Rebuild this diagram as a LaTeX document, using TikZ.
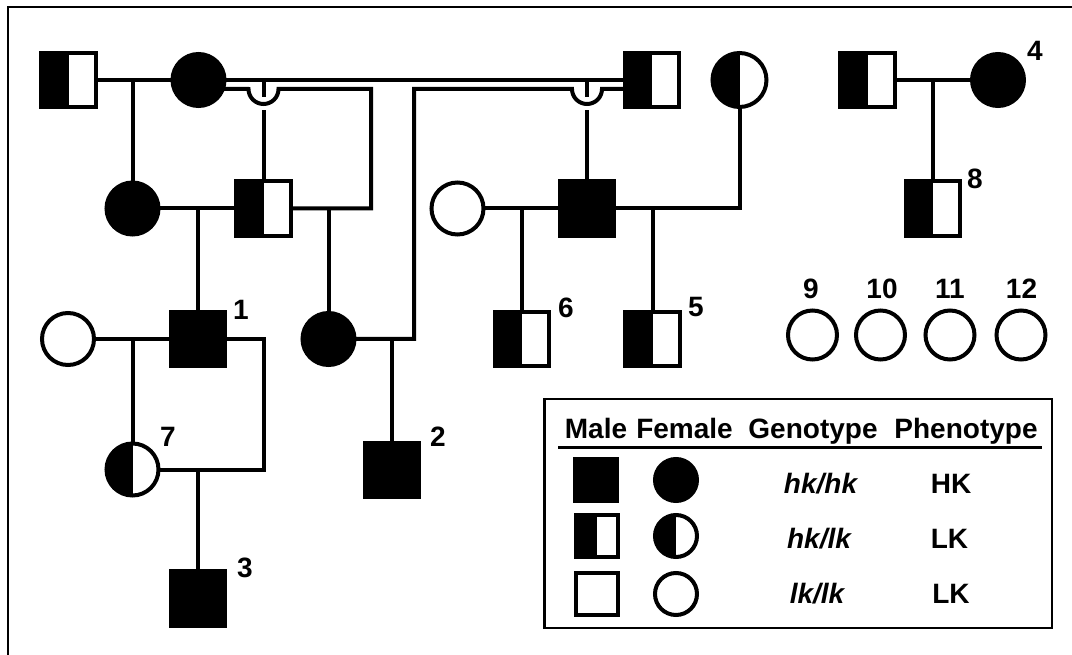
\documentclass[tikz,border=0pt]{standalone}
\usepackage{fontspec}
\setmainfont{Liberation Sans}
\newcommand\lblfont{\fontsize{28}{30}\selectfont\bfseries}
\begin{document}
\begin{tikzpicture}[x=1pt,y=-1pt,
  pl/.style={line width=4pt},
  sym/.style={draw=black, line width=4pt, inner sep=0pt, outer sep=0pt},
  male/.style={sym, rectangle, minimum size=54.5pt},
  female/.style={sym, circle, minimum size=52pt},
  lmale/.style={sym, rectangle, minimum size=42pt},
  lfemale/.style={sym, circle, minimum size=42pt},
  aff/.style={fill=black},
  car/.style={path picture={\fill[black] (path picture bounding box.south west) rectangle (path picture bounding box.north);}},
  lab/.style={font=\lblfont, inner sep=0pt},
  hdr/.style={font=\lblfont, inner sep=0pt, anchor=base},
  gap/.style={white, line width=7pt}
]
\useasboundingbox (0,0) rectangle (1072,655);
\fill[white] (0,0) rectangle (1072,655);
% frame (cut at right and bottom)
\draw[line width=2.5pt] (8,655) -- (8,7) -- (1072,7);

% ---------- generation I ----------
\node[male,car]   (m11) at (68.5,80) {};
\node[female,aff] (f12) at (198.5,80) {};
\node[male,car]   (m13) at (652,80) {};
\node[female,car, minimum size=54pt] (f14) at (739.5,80) {};
\node[male,car]   (m15) at (867.5,80) {};
\node[female,aff] (f4)  at (998,80) {};
\node[lab] (l4) at (1035,51) {4};

% ---------- generation II ----------
\node[female,aff] (f21) at (132.5,208.5) {};
\node[male,car]   (m22) at (263.5,208.5) {};
\node[female]     (f23) at (457.5,208.5) {};
\node[male,aff]   (m24) at (587,208.5) {};
\node[male,car]   (m8)  at (933,208.5) {};
\node[lab] (l8) at (975,178.5) {8};

% ---------- generation III ----------
\node[female]     (f31) at (68,339) {};
\node[male,aff]   (m1)  at (198,339) {};
\node[lab] (l1) at (241,310) {1};
\node[female,aff] (f33) at (328.5,339) {};
\node[male,car]   (m6)  at (522,339) {};
\node[lab] (l6) at (566,307.5) {6};
\node[male,car]   (m5)  at (652.5,339) {};
\node[lab] (l5) at (696,307.5) {5};
\node[female, minimum size=49pt] (f9)  at (812.5,335) {};
\node[female, minimum size=49pt] (f10) at (880.5,335) {};
\node[female, minimum size=49pt] (f11) at (950,335) {};
\node[female, minimum size=49pt] (f12b) at (1021,335) {};
\node[lab] (l9)  at (811,289) {9};
\node[lab] (l10) at (882,289) {10};
\node[lab] (l11) at (950,289) {11};
\node[lab] (l12) at (1021.5,289) {12};

% ---------- generation IV ----------
\node[female,car] (f7) at (132.5,469.5) {};
\node[lab] (l7) at (168,437) {7};
\node[male,aff]   (m2) at (392,470) {};
\node[lab] (l2) at (438,437) {2};

% ---------- generation V ----------
\node[male,aff]   (m3) at (198,598.5) {};
\node[lab] (l3) at (245,568) {3};

% ---------- connectors ----------
\draw[pl] (m11) -- (f12);
\coordinate (c1) at (132.5,80);
\draw[pl] (c1) -- (f21);
\draw[pl] (f12) -- (m13);
\coordinate (c2a) at (263.5,80);
\draw[pl] (c2a) -- (m22);
\coordinate (c2b) at (587,80);
\draw[pl] (c2b) -- (m24);
% gaps where the loops hop over the sibship lines
\draw[gap] (263.5,97.5) -- (263.5,110);
\draw[gap] (587,97.5) -- (587,110);
% I-2 to II-2 loop
\coordinate (k1) at (371,89);
\draw[pl] (f12.-20) -- (248.5,89)
  .. controls (248.5,97.3) and (255.2,104) .. (263.5,104)
  .. controls (271.8,104) and (278.5,97.3) .. (278.5,89)
  -- (k1) -- (k1 |- m22) -- (m22);
% I-3 to III-3 loop
\coordinate (k2) at (414,89);
\draw[pl] (m13.west |- k2) -- (602,89)
  .. controls (602,97.3) and (595.3,104) .. (587,104)
  .. controls (578.7,104) and (572,97.3) .. (572,89)
  -- (k2) -- (k2 |- f33) -- (f33);

\draw[pl] (f21) -- (m22);
\coordinate (c3) at (198,208.5);
\draw[pl] (c3) -- (m1);
\coordinate (c4) at (328.5,208.5);
\draw[pl] (c4) -- (f33);
\draw[pl] (f23) -- (m24);
\coordinate (c5) at (522,208.5);
\draw[pl] (c5) -- (m6);
\coordinate (k3) at (739.5,208.5);
\draw[pl] (m24) -- (k3) -- (f14);
\coordinate (c6) at (652.5,208.5);
\draw[pl] (c6) -- (m5);
\draw[pl] (m15) -- (f4);
\coordinate (c7) at (933,80);
\draw[pl] (c7) -- (m8);
\draw[pl] (f31) -- (m1);
\coordinate (c8) at (132.5,339);
\draw[pl] (c8) -- (f7);
\coordinate (k4) at (263.5,339);
\draw[pl] (m1) -- (k4) -- (k4 |- f7) -- (f7);
\coordinate (c9) at (198,469.5);
\draw[pl] (c9) -- (m3);
\coordinate (c10) at (392,339);
\draw[pl] (c10) -- (m2);

% ---------- legend ----------
\draw[line width=2.5pt] (544.5,399) rectangle (1052,628);
\node[hdr] (hm) at (596,438) {Male};
\node[hdr] (hf) at (684.5,438) {Female};
\node[hdr] (hg) at (813,438) {Genotype};
\node[hdr] (hp) at (966,438) {Phenotype};
\draw[line width=2.5pt] (558,447.5) -- (1042,447.5);
\node[lmale,aff]   (lm1) at (596,480) {};
\node[lfemale,aff] (lf1) at (676,480) {};
\node[lmale,car]   (lm2) at (596.5,536) {};
\node[lfemale,car] (lf2) at (676,536) {};
\node[lmale]       (lm3) at (596.5,594) {};
\node[lfemale]     (lf3) at (676,594) {};
\node[hdr] (g1) at (820.5,493) {\itshape hk/hk};
\node[hdr] (g2) at (819,548) {\itshape hk/lk};
\node[hdr] (g3) at (817,603) {\itshape lk/lk};
\node[hdr] (p1) at (951,493) {HK};
\node[hdr] (p2) at (949.5,548) {LK};
\node[hdr] (p3) at (951,603) {LK};
\end{tikzpicture}
\end{document}
